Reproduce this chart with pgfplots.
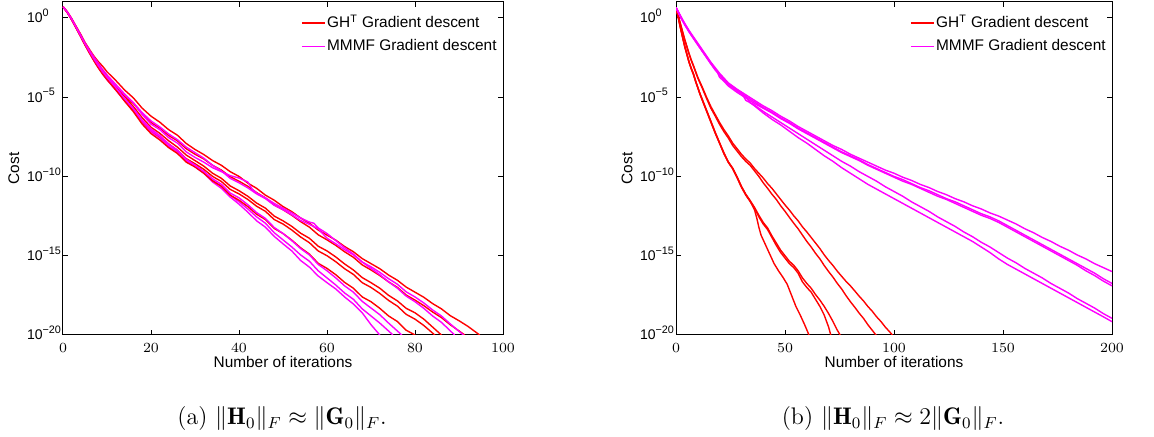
\documentclass[border=0pt]{standalone}
\usepackage{fontspec}
\usepackage{pgfplots}
\pgfplotsset{compat=1.18}
\newfontfamily\helv{Liberation Sans}
\newcommand\axisfont{\helv\fontsize{7.7}{9.2}\selectfont}
\newcommand\tickfont{\helv\fontsize{7}{8.4}\selectfont}
\newcommand\expo[1]{10\rlap{\raisebox{3.2pt}{\fontsize{5.4}{6}\selectfont #1}}}
\definecolor{mred}{rgb}{1,0,0}
\definecolor{mmag}{rgb}{1,0,1}

% columns: x = iteration, c = log10(cost); the y axis is drawn in decades
\pgfplotsset{
  table/lc/.style={row sep=\\, x=x, y=c},
  legend image code/.code={\draw[line width=0.7pt,#1] (0pt,0pt) -- (11.5pt,0pt);},
  costaxis/.style={
    scale only axis, ymin=-20, ymax=1,
    height=166.5pt, anchor=south west,
    axis line style={line width=0.5pt},
    tick style={black, line width=0.5pt},
    major tick length=2.5pt,
    ytick={-20,-15,-10,-5,0},
    yticklabels={\expo{−20},\expo{−15},\expo{−10},\expo{−5},\expo{0}},
    tick label style={font=\tickfont},
    xticklabel style={anchor=center, yshift=-6.5pt},
    yticklabel style={anchor=base east, inner sep=0pt, xshift=-10pt, yshift=-2.5pt},
    label style={font=\axisfont},
    xlabel={Number of iterations},
    ylabel={Cost},
    xlabel style={at={(axis description cs:0.5,0)}, anchor=center, yshift=-13.5pt},
    ylabel style={at={(axis description cs:-0.112,0.5)}, anchor=center},
    legend style={draw=none, fill=none, font=\axisfont,
      at={(axis description cs:1,1)}, anchor=north east, xshift=-2.2pt, yshift=-5.4pt,
      inner sep=0pt, row sep=2.6pt, nodes={inner sep=0.8pt}},
    legend cell align=left,
    every axis plot/.append style={line width=0.7pt},
  },
}

\begin{document}
\begin{tikzpicture}
\path[use as bounding box] (0,0) rectangle (577pt,218.5pt);

% (a)
\begin{axis}[costaxis, at={(31.5pt,51pt)}, width=220pt,
  xmin=0, xmax=100, xtick={0,20,...,100}]
\addlegendimage{color=mred}
\addlegendentry{GH\textsuperscript{T} Gradient descent}
\addlegendimage{color=mmag}
\addlegendentry{MMMF Gradient descent}
\addplot[color=mred, forget plot] table[lc] {x c\\ 0 0.70\\ 1 0.38\\ 2 -0.05\\ 3 -0.55\\ 4 -1.02\\ 5 -1.55\\ 6 -1.98\\ 7 -2.40\\ 8 -2.75\\ 9 -3.05\\ 10 -3.40\\ 12 -3.95\\ 14 -4.55\\ 16 -5.05\\ 18 -5.70\\ 20 -6.20\\ 22 -6.58\\ 24 -7.05\\ 26 -7.40\\ 28 -7.92\\ 30 -8.30\\ 32 -8.62\\ 34 -9.00\\ 36 -9.30\\ 38 -9.70\\ 40 -10.00\\ 42 -10.42\\ 44 -10.75\\ 46 -11.18\\ 48 -11.50\\ 50 -11.90\\ 52 -12.22\\ 54 -12.62\\ 56 -12.95\\ 58 -13.38\\ 60 -13.70\\ 62 -14.02\\ 64 -14.42\\ 66 -14.75\\ 68 -15.18\\ 70 -15.50\\ 72 -15.82\\ 74 -16.22\\ 76 -16.55\\ 78 -16.98\\ 80 -17.30\\ 82 -17.62\\ 84 -18.02\\ 86 -18.35\\ 88 -18.78\\ 90 -19.10\\ 92 -19.45\\ 94.7 -20.00\\};
\addplot[color=mmag, forget plot] table[lc] {x c\\ 0 0.70\\ 1 0.33\\ 2 -0.13\\ 3 -0.65\\ 4 -1.17\\ 5 -1.70\\ 6 -2.20\\ 7 -2.68\\ 8 -3.12\\ 9 -3.52\\ 10 -3.90\\ 12 -4.55\\ 14 -5.25\\ 16 -5.85\\ 18 -6.60\\ 20 -7.20\\ 22 -7.58\\ 24 -8.10\\ 26 -8.45\\ 28 -9.02\\ 30 -9.40\\ 32 -9.80\\ 34 -10.35\\ 36 -10.75\\ 38 -11.30\\ 40 -11.75\\ 42 -12.25\\ 44 -12.80\\ 46 -13.20\\ 48 -13.78\\ 50 -14.25\\ 52 -14.70\\ 54 -15.30\\ 56 -15.72\\ 58 -16.28\\ 60 -16.70\\ 62 -17.10\\ 64 -17.60\\ 66 -18.05\\ 68 -18.60\\ 70 -19.35\\ 72 -20.00\\};
\addplot[color=mred, forget plot] table[lc] {x c\\ 0 0.70\\ 1 0.32\\ 2 -0.12\\ 3 -0.62\\ 4 -1.15\\ 5 -1.68\\ 6 -2.15\\ 7 -2.60\\ 8 -3.00\\ 9 -3.45\\ 10 -3.80\\ 12 -4.30\\ 14 -4.92\\ 16 -5.40\\ 18 -6.05\\ 20 -6.60\\ 22 -6.95\\ 24 -7.42\\ 26 -7.75\\ 28 -8.25\\ 30 -8.60\\ 32 -8.90\\ 34 -9.30\\ 36 -9.60\\ 38 -10.02\\ 40 -10.30\\ 42 -10.62\\ 44 -11.02\\ 46 -11.35\\ 48 -11.80\\ 50 -12.10\\ 52 -12.45\\ 54 -12.85\\ 56 -13.20\\ 58 -13.68\\ 60 -14.00\\ 62 -14.35\\ 64 -14.75\\ 66 -15.10\\ 68 -15.58\\ 70 -15.90\\ 72 -16.25\\ 74 -16.65\\ 76 -17.00\\ 78 -17.48\\ 80 -17.80\\ 82 -18.15\\ 84 -18.55\\ 86 -18.90\\ 88 -19.35\\ 91.3 -20.00\\};
\addplot[color=mmag, forget plot] table[lc] {x c\\ 0 0.70\\ 1 0.36\\ 2 -0.08\\ 3 -0.56\\ 4 -1.06\\ 5 -1.58\\ 6 -2.03\\ 7 -2.45\\ 8 -2.85\\ 9 -3.25\\ 10 -3.60\\ 12 -4.20\\ 14 -4.80\\ 16 -5.35\\ 18 -6.10\\ 20 -6.70\\ 22 -7.05\\ 24 -7.55\\ 26 -7.90\\ 28 -8.45\\ 30 -8.80\\ 32 -9.10\\ 34 -9.45\\ 36 -9.70\\ 38 -9.95\\ 40 -10.10\\ 42 -10.35\\ 43 -10.80\\ 44 -11.05\\ 46 -11.35\\ 48 -11.70\\ 50 -12.00\\ 52 -12.30\\ 54 -12.62\\ 56 -12.88\\ 57 -12.95\\ 58 -13.25\\ 60 -13.60\\ 62 -14.05\\ 64 -14.50\\ 66 -14.90\\ 68 -15.40\\ 70 -15.80\\ 72 -16.20\\ 74 -16.65\\ 76 -17.05\\ 78 -17.55\\ 80 -17.90\\ 82 -18.32\\ 84 -18.80\\ 86 -19.20\\ 89 -20.00\\};
\addplot[color=mred, forget plot] table[lc] {x c\\ 0 0.70\\ 1 0.35\\ 2 -0.10\\ 3 -0.58\\ 4 -1.10\\ 5 -1.62\\ 6 -2.08\\ 7 -2.52\\ 8 -2.95\\ 9 -3.35\\ 10 -3.70\\ 12 -4.35\\ 14 -4.95\\ 16 -5.60\\ 18 -6.30\\ 20 -6.90\\ 22 -7.28\\ 24 -7.75\\ 26 -8.15\\ 28 -8.65\\ 30 -9.00\\ 32 -9.35\\ 34 -9.80\\ 36 -10.12\\ 38 -10.60\\ 40 -10.90\\ 42 -11.25\\ 44 -11.68\\ 46 -12.00\\ 48 -12.50\\ 50 -12.80\\ 52 -13.15\\ 54 -13.58\\ 56 -13.90\\ 58 -14.40\\ 60 -14.70\\ 62 -15.08\\ 64 -15.52\\ 66 -15.90\\ 68 -16.38\\ 70 -16.70\\ 72 -17.05\\ 74 -17.50\\ 76 -17.85\\ 78 -18.32\\ 80 -18.60\\ 82 -19.00\\ 84 -19.50\\ 86 -20.00\\};
\addplot[color=mmag, forget plot] table[lc] {x c\\ 0 0.70\\ 1 0.35\\ 2 -0.10\\ 3 -0.60\\ 4 -1.10\\ 5 -1.62\\ 6 -2.08\\ 7 -2.52\\ 8 -2.95\\ 9 -3.35\\ 10 -3.70\\ 12 -4.25\\ 14 -4.85\\ 16 -5.35\\ 18 -5.98\\ 20 -6.50\\ 22 -6.88\\ 24 -7.32\\ 26 -7.68\\ 28 -8.15\\ 30 -8.50\\ 32 -8.85\\ 34 -9.30\\ 36 -9.65\\ 38 -10.12\\ 40 -10.40\\ 42 -10.72\\ 44 -11.10\\ 46 -11.40\\ 48 -11.82\\ 50 -12.10\\ 52 -12.42\\ 54 -12.78\\ 56 -13.02\\ 58 -13.30\\ 60 -13.90\\ 62 -14.25\\ 64 -14.62\\ 66 -14.95\\ 68 -15.40\\ 70 -15.70\\ 72 -16.05\\ 74 -16.45\\ 76 -16.80\\ 78 -17.28\\ 80 -17.60\\ 82 -17.98\\ 84 -18.42\\ 86 -18.80\\ 88 -19.30\\ 91 -20.00\\};
\addplot[color=mred, forget plot] table[lc] {x c\\ 0 0.70\\ 1 0.33\\ 2 -0.14\\ 3 -0.66\\ 4 -1.18\\ 5 -1.72\\ 6 -2.22\\ 7 -2.70\\ 8 -3.15\\ 9 -3.55\\ 10 -3.90\\ 12 -4.55\\ 14 -5.20\\ 16 -5.82\\ 18 -6.55\\ 20 -7.10\\ 22 -7.50\\ 24 -7.95\\ 26 -8.35\\ 28 -8.88\\ 30 -9.20\\ 32 -9.55\\ 34 -10.00\\ 36 -10.32\\ 38 -10.82\\ 40 -11.10\\ 42 -11.45\\ 44 -11.88\\ 46 -12.20\\ 48 -12.72\\ 50 -13.00\\ 52 -13.38\\ 54 -13.82\\ 56 -14.18\\ 58 -14.70\\ 60 -15.00\\ 62 -15.38\\ 64 -15.82\\ 66 -16.18\\ 68 -16.70\\ 70 -17.00\\ 72 -17.38\\ 74 -17.82\\ 76 -18.18\\ 78 -18.70\\ 80 -19.00\\ 82 -19.40\\ 84.5 -20.00\\};
\addplot[color=mmag, forget plot] table[lc] {x c\\ 0 0.70\\ 1 0.34\\ 2 -0.11\\ 3 -0.62\\ 4 -1.13\\ 5 -1.65\\ 6 -2.14\\ 7 -2.60\\ 8 -3.04\\ 9 -3.44\\ 10 -3.80\\ 12 -4.45\\ 14 -5.12\\ 16 -5.72\\ 18 -6.45\\ 20 -7.00\\ 22 -7.42\\ 24 -7.95\\ 26 -8.35\\ 28 -8.92\\ 30 -9.30\\ 32 -9.70\\ 34 -10.25\\ 36 -10.62\\ 38 -11.18\\ 40 -11.60\\ 42 -12.05\\ 44 -12.55\\ 46 -12.95\\ 48 -13.55\\ 50 -14.00\\ 52 -14.45\\ 54 -14.95\\ 56 -15.35\\ 58 -15.95\\ 60 -16.40\\ 62 -16.85\\ 64 -17.35\\ 66 -17.75\\ 68 -18.35\\ 70 -18.80\\ 72 -19.25\\ 75 -20.00\\};
\addplot[color=mred, forget plot] table[lc] {x c\\ 0 0.70\\ 1 0.34\\ 2 -0.12\\ 3 -0.63\\ 4 -1.14\\ 5 -1.66\\ 6 -2.16\\ 7 -2.62\\ 8 -3.05\\ 9 -3.45\\ 10 -3.80\\ 12 -4.50\\ 14 -5.25\\ 16 -5.92\\ 18 -6.70\\ 20 -7.30\\ 22 -7.70\\ 24 -8.18\\ 26 -8.55\\ 28 -9.10\\ 30 -9.40\\ 32 -9.80\\ 34 -10.28\\ 36 -10.62\\ 38 -11.18\\ 40 -11.50\\ 42 -11.90\\ 44 -12.38\\ 46 -12.72\\ 48 -13.28\\ 50 -13.60\\ 52 -14.02\\ 54 -14.50\\ 56 -14.90\\ 58 -15.48\\ 60 -15.80\\ 62 -16.20\\ 64 -16.68\\ 66 -17.05\\ 68 -17.60\\ 70 -17.90\\ 72 -18.32\\ 74 -18.80\\ 76 -19.15\\ 78 -19.70\\ 80 -20.00\\};
\addplot[color=mmag, forget plot] table[lc] {x c\\ 0 0.70\\ 1 0.35\\ 2 -0.10\\ 3 -0.61\\ 4 -1.12\\ 5 -1.64\\ 6 -2.12\\ 7 -2.58\\ 8 -3.00\\ 9 -3.40\\ 10 -3.75\\ 12 -4.40\\ 14 -5.10\\ 16 -5.75\\ 18 -6.52\\ 20 -7.10\\ 22 -7.48\\ 24 -7.98\\ 26 -8.35\\ 28 -8.95\\ 30 -9.30\\ 32 -9.68\\ 34 -10.15\\ 36 -10.50\\ 38 -11.05\\ 40 -11.35\\ 42 -11.78\\ 44 -12.28\\ 46 -12.65\\ 48 -13.22\\ 50 -13.60\\ 52 -14.05\\ 54 -14.55\\ 56 -14.95\\ 58 -15.55\\ 60 -15.95\\ 62 -16.40\\ 64 -16.90\\ 66 -17.30\\ 68 -17.88\\ 70 -18.30\\ 72 -18.72\\ 74 -19.25\\ 77 -20.00\\};
\end{axis}

% (b)
\begin{axis}[costaxis, at={(338pt,51pt)}, width=218pt,
  xmin=0, xmax=200, xtick={0,50,...,200}]
\addlegendimage{color=mred}
\addlegendentry{GH\textsuperscript{T} Gradient descent}
\addlegendimage{color=mmag}
\addlegendentry{MMMF Gradient descent}
\addplot[color=mred, forget plot] table[lc] {x c\\ 0 0.65\\ 1 0.15\\ 2 -0.35\\ 3 -0.85\\ 4 -1.35\\ 5 -1.80\\ 6 -2.25\\ 7 -2.65\\ 8 -3.00\\ 10 -3.75\\ 12 -4.35\\ 14 -5.00\\ 16 -5.60\\ 18 -6.10\\ 20 -6.60\\ 22 -7.05\\ 24 -7.45\\ 26 -7.90\\ 28 -8.25\\ 30 -8.60\\ 32 -8.90\\ 34 -9.15\\ 36 -9.50\\ 38 -9.80\\ 40 -10.10\\ 42 -10.45\\ 44 -10.75\\ 46 -11.10\\ 48 -11.45\\ 50 -11.80\\ 52 -12.12\\ 54 -12.48\\ 56 -12.80\\ 58 -13.18\\ 60 -13.50\\ 62 -13.85\\ 64 -14.20\\ 66 -14.55\\ 68 -14.95\\ 70 -15.30\\ 72 -15.62\\ 74 -15.98\\ 76 -16.30\\ 78 -16.62\\ 80 -16.90\\ 82 -17.22\\ 84 -17.55\\ 86 -17.85\\ 88 -18.20\\ 90 -18.50\\ 92 -18.85\\ 94 -19.15\\ 96 -19.50\\ 98 -19.80\\ 100.5 -20.20\\};
\addplot[color=mmag, forget plot] table[lc] {x c\\ 0 0.65\\ 2 0.15\\ 4 -0.35\\ 6 -0.80\\ 8 -1.20\\ 10 -1.60\\ 12 -2.00\\ 14 -2.40\\ 16 -2.80\\ 18 -3.15\\ 20 -3.50\\ 22 -3.80\\ 24 -4.10\\ 28 -4.50\\ 32 -4.85\\ 36 -5.20\\ 40 -5.55\\ 44 -5.85\\ 48 -6.20\\ 52 -6.50\\ 56 -6.85\\ 60 -7.15\\ 64 -7.45\\ 68 -7.75\\ 72 -8.05\\ 76 -8.30\\ 80 -8.60\\ 84 -8.85\\ 88 -9.10\\ 92 -9.35\\ 96 -9.60\\ 100 -9.80\\ 104 -10.05\\ 108 -10.25\\ 112 -10.50\\ 116 -10.70\\ 120 -10.95\\ 124 -11.15\\ 128 -11.40\\ 132 -11.60\\ 136 -11.85\\ 140 -12.05\\ 144 -12.30\\ 148 -12.50\\ 152 -12.75\\ 156 -13.00\\ 160 -13.30\\ 164 -13.55\\ 168 -13.85\\ 172 -14.10\\ 176 -14.40\\ 180 -14.65\\ 184 -14.95\\ 188 -15.20\\ 192 -15.50\\ 196 -15.75\\ 200 -16.00\\};
\addplot[color=mred, forget plot] table[lc] {x c\\ 0 0.65\\ 1 0.12\\ 2 -0.40\\ 3 -0.90\\ 4 -1.40\\ 5 -1.85\\ 6 -2.30\\ 7 -2.70\\ 8 -3.05\\ 10 -3.80\\ 12 -4.42\\ 14 -5.08\\ 16 -5.70\\ 18 -6.20\\ 20 -6.72\\ 22 -7.18\\ 24 -7.58\\ 26 -8.05\\ 28 -8.40\\ 30 -8.75\\ 32 -9.05\\ 34 -9.30\\ 36 -9.65\\ 38 -10.00\\ 40 -10.40\\ 42 -10.75\\ 44 -11.12\\ 46 -11.45\\ 48 -11.85\\ 50 -12.20\\ 52 -12.58\\ 54 -12.95\\ 56 -13.30\\ 58 -13.70\\ 60 -14.10\\ 62 -14.45\\ 64 -14.85\\ 66 -15.20\\ 68 -15.62\\ 70 -16.00\\ 72 -16.35\\ 74 -16.75\\ 76 -17.10\\ 78 -17.52\\ 80 -17.90\\ 82 -18.25\\ 84 -18.62\\ 86 -18.95\\ 88 -19.35\\ 90 -19.70\\ 92 -20.05\\};
\addplot[color=mred, forget plot] table[lc] {x c\\ 0 0.65\\ 1 0.05\\ 2 -0.60\\ 3 -1.20\\ 4 -1.80\\ 5 -2.30\\ 6 -2.80\\ 7 -3.20\\ 8 -3.55\\ 9 -4.00\\ 10 -4.40\\ 11 -4.80\\ 12 -5.15\\ 14 -5.85\\ 16 -6.55\\ 18 -7.25\\ 20 -7.90\\ 22 -8.55\\ 24 -9.10\\ 26 -9.50\\ 28 -10.05\\ 30 -10.65\\ 32 -11.15\\ 34 -11.55\\ 36 -12.10\\ 37 -12.60\\ 38 -13.20\\ 39 -13.70\\ 41 -14.30\\ 43 -14.90\\ 45 -15.50\\ 47 -15.95\\ 49 -16.35\\ 51 -16.80\\ 53 -17.50\\ 55 -18.20\\ 57 -18.75\\ 59 -19.35\\ 61 -20.00\\};
\addplot[color=mred, forget plot] table[lc] {x c\\ 0 0.65\\ 1 0.04\\ 2 -0.62\\ 3 -1.22\\ 4 -1.82\\ 5 -2.32\\ 6 -2.82\\ 7 -3.22\\ 8 -3.58\\ 9 -4.02\\ 10 -4.42\\ 11 -4.82\\ 12 -5.18\\ 14 -5.88\\ 16 -6.58\\ 18 -7.28\\ 20 -7.92\\ 22 -8.58\\ 24 -9.12\\ 26 -9.52\\ 28 -10.08\\ 30 -10.68\\ 32 -11.18\\ 34 -11.58\\ 36 -12.00\\ 38 -12.55\\ 40 -13.00\\ 42 -13.35\\ 44 -13.85\\ 46 -14.35\\ 48 -14.80\\ 50 -15.15\\ 52 -15.50\\ 54 -15.75\\ 56 -16.10\\ 58 -16.65\\ 60 -17.00\\ 62 -17.30\\ 64 -17.75\\ 66 -18.20\\ 68 -18.75\\ 70 -19.50\\ 71 -20.00\\};
\addplot[color=mred, forget plot] table[lc] {x c\\ 0 0.65\\ 1 0.06\\ 2 -0.58\\ 3 -1.18\\ 4 -1.78\\ 5 -2.28\\ 6 -2.78\\ 7 -3.18\\ 8 -3.52\\ 9 -3.98\\ 10 -4.38\\ 11 -4.78\\ 12 -5.12\\ 14 -5.82\\ 16 -6.52\\ 18 -7.22\\ 20 -7.88\\ 22 -8.52\\ 24 -9.08\\ 26 -9.48\\ 28 -10.02\\ 30 -10.62\\ 32 -11.12\\ 34 -11.52\\ 36 -11.95\\ 38 -12.45\\ 40 -12.90\\ 42 -13.25\\ 44 -13.75\\ 46 -14.20\\ 48 -14.65\\ 50 -15.00\\ 52 -15.35\\ 54 -15.60\\ 56 -15.95\\ 58 -16.40\\ 60 -16.75\\ 62 -17.05\\ 64 -17.45\\ 66 -17.80\\ 68 -18.20\\ 70 -18.65\\ 72 -19.15\\ 74 -19.70\\ 75.3 -20.00\\};
\addplot[color=mmag, forget plot] table[lc] {x c\\ 0 0.65\\ 2 0.10\\ 4 -0.40\\ 6 -0.85\\ 8 -1.25\\ 10 -1.65\\ 12 -2.05\\ 14 -2.45\\ 16 -2.85\\ 18 -3.20\\ 20 -3.55\\ 22 -3.90\\ 24 -4.20\\ 28 -4.60\\ 32 -4.95\\ 36 -5.30\\ 40 -5.65\\ 44 -5.95\\ 48 -6.30\\ 52 -6.60\\ 56 -6.95\\ 60 -7.25\\ 64 -7.55\\ 68 -7.85\\ 72 -8.15\\ 76 -8.45\\ 80 -8.70\\ 84 -8.95\\ 88 -9.25\\ 92 -9.50\\ 96 -9.75\\ 100 -10.00\\ 104 -10.20\\ 108 -10.45\\ 112 -10.70\\ 116 -10.90\\ 120 -11.15\\ 124 -11.40\\ 128 -11.60\\ 132 -11.85\\ 136 -12.10\\ 140 -12.35\\ 144 -12.55\\ 148 -12.80\\ 152 -13.10\\ 156 -13.40\\ 160 -13.70\\ 164 -14.00\\ 168 -14.30\\ 172 -14.60\\ 176 -14.90\\ 180 -15.20\\ 184 -15.50\\ 188 -15.80\\ 192 -16.10\\ 196 -16.45\\ 200 -16.75\\};
\addplot[color=mmag, forget plot] table[lc] {x c\\ 0 0.65\\ 2 0.05\\ 4 -0.45\\ 6 -0.90\\ 8 -1.30\\ 10 -1.70\\ 12 -2.10\\ 14 -2.50\\ 16 -2.90\\ 18 -3.30\\ 19 -3.45\\ 20 -3.75\\ 22 -4.00\\ 24 -4.30\\ 28 -4.70\\ 32 -5.05\\ 36 -5.40\\ 40 -5.70\\ 44 -6.00\\ 48 -6.35\\ 52 -6.65\\ 56 -7.00\\ 60 -7.30\\ 64 -7.60\\ 68 -7.90\\ 72 -8.20\\ 76 -8.50\\ 80 -8.75\\ 84 -9.00\\ 88 -9.30\\ 92 -9.55\\ 96 -9.80\\ 100 -10.05\\ 104 -10.30\\ 108 -10.50\\ 112 -10.75\\ 116 -11.00\\ 120 -11.25\\ 124 -11.45\\ 128 -11.70\\ 132 -11.95\\ 136 -12.20\\ 140 -12.45\\ 144 -12.65\\ 148 -12.90\\ 152 -13.20\\ 156 -13.50\\ 160 -13.80\\ 164 -14.10\\ 168 -14.40\\ 172 -14.70\\ 176 -15.00\\ 180 -15.30\\ 184 -15.60\\ 188 -15.95\\ 192 -16.25\\ 196 -16.60\\ 200 -16.90\\};
\addplot[color=mmag, forget plot] table[lc] {x c\\ 0 0.65\\ 2 0.10\\ 4 -0.40\\ 6 -0.85\\ 8 -1.25\\ 10 -1.65\\ 12 -2.05\\ 14 -2.45\\ 16 -2.85\\ 18 -3.20\\ 20 -3.55\\ 22 -3.85\\ 24 -4.15\\ 28 -4.55\\ 30 -4.70\\ 32 -5.20\\ 36 -5.50\\ 40 -5.90\\ 44 -6.25\\ 48 -6.60\\ 52 -6.95\\ 56 -7.30\\ 60 -7.65\\ 64 -8.00\\ 68 -8.35\\ 72 -8.70\\ 76 -9.05\\ 80 -9.35\\ 84 -9.70\\ 88 -10.00\\ 92 -10.30\\ 96 -10.65\\ 100 -10.95\\ 104 -11.25\\ 108 -11.60\\ 112 -11.90\\ 116 -12.20\\ 120 -12.55\\ 124 -12.85\\ 128 -13.15\\ 132 -13.50\\ 136 -13.80\\ 140 -14.15\\ 144 -14.45\\ 148 -14.80\\ 152 -15.15\\ 156 -15.45\\ 160 -15.80\\ 164 -16.10\\ 168 -16.40\\ 172 -16.75\\ 176 -17.05\\ 180 -17.35\\ 184 -17.70\\ 188 -18.00\\ 192 -18.30\\ 196 -18.65\\ 200 -18.95\\};
\addplot[color=mmag, forget plot] table[lc] {x c\\ 0 0.65\\ 2 0.10\\ 4 -0.40\\ 6 -0.85\\ 8 -1.30\\ 10 -1.70\\ 12 -2.10\\ 14 -2.50\\ 16 -2.90\\ 18 -3.25\\ 20 -3.60\\ 22 -3.90\\ 24 -4.20\\ 28 -4.60\\ 32 -4.95\\ 34 -5.35\\ 36 -5.55\\ 40 -6.00\\ 44 -6.40\\ 48 -6.75\\ 52 -7.15\\ 56 -7.55\\ 60 -7.90\\ 64 -8.30\\ 68 -8.70\\ 72 -9.05\\ 76 -9.45\\ 80 -9.80\\ 84 -10.15\\ 88 -10.50\\ 92 -10.80\\ 96 -11.10\\ 100 -11.40\\ 104 -11.70\\ 108 -12.00\\ 112 -12.30\\ 116 -12.60\\ 120 -12.90\\ 124 -13.20\\ 128 -13.50\\ 132 -13.80\\ 136 -14.10\\ 140 -14.45\\ 144 -14.80\\ 148 -15.20\\ 152 -15.55\\ 156 -15.85\\ 160 -16.15\\ 164 -16.45\\ 168 -16.75\\ 172 -17.05\\ 176 -17.35\\ 180 -17.65\\ 184 -17.95\\ 188 -18.25\\ 192 -18.55\\ 196 -18.85\\ 200 -19.16\\};
\end{axis}

\node[anchor=base, font=\fontsize{12}{14}\selectfont] at (141pt,6pt)
  {(a) $\|\mathbf{H}_0\|_F \approx \|\mathbf{G}_0\|_F$.};
\node[anchor=base, font=\fontsize{12}{14}\selectfont] at (446.5pt,6pt)
  {(b) $\|\mathbf{H}_0\|_F \approx 2\|\mathbf{G}_0\|_F$.};
\end{tikzpicture}
\end{document}
